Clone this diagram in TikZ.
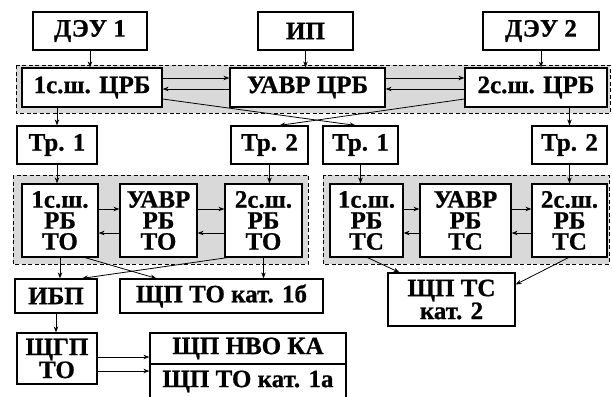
\documentclass[tikz,border=0pt]{standalone}
\usepackage{fontspec}
\setmainfont{Liberation Serif}[BoldFont={Liberation Serif Bold}, BoldFeatures={FakeBold=0.8}]
\usetikzlibrary{arrows.meta}
\newcommand{\bxnode}[6]{\node[box,minimum width={(#3-#2)*1pt},minimum height={(#5-#4)*1pt}] (#1) at ({(#2+#3)/2},{(#4+#5)/2}) {#6};}
\begin{document}
\begin{tikzpicture}[x=1pt,y=-1pt,
  box/.style={draw, line width=1.2pt, fill=white, inner sep=0pt, align=center, font=\bfseries\fontsize{25}{21}\selectfont},
  grp/.style={draw, dash pattern=on 4pt off 2.5pt, line width=0.9pt, fill=black!15},
  arr/.style={-{Stealth[length=6pt,width=4.5pt]}, line width=0.8pt},
]
\useasboundingbox (0,0) rectangle (612,396);
% groups
\draw[grp] (16,65) rectangle (610,113);
\draw[grp] (13,175) rectangle (308,264);
\draw[grp] (323,175) rectangle (609,264);
% boxes
\bxnode{dey1}{33}{147}{12}{50}{ДЭУ 1}
\bxnode{ip}{258}{353}{12}{50}{ИП}
\bxnode{dey2}{483}{599}{12}{50}{ДЭУ 2}
\bxnode{s1crb}{22}{162}{68}{107}{1с.ш. ЦРБ}
\bxnode{uavrcrb}{230}{385}{68}{107}{УАВР ЦРБ}
\bxnode{s2crb}{465}{607}{68}{107}{2с.ш. ЦРБ}
\bxnode{tr1a}{17}{97}{126}{164}{Тр. 1}
\bxnode{tr2a}{231}{308}{126}{164}{Тр. 2}
\bxnode{tr1b}{323}{398}{126}{164}{Тр. 1}
\bxnode{tr2b}{532}{607}{126}{164}{Тр. 2}
\bxnode{rb1to}{22}{98}{184}{257}{1с.ш.\\РБ\\ТО}
\bxnode{uavrto}{120}{197}{184}{257}{УАВР\\РБ\\ТО}
\bxnode{rb2to}{225}{302}{184}{257}{2с.ш.\\РБ\\ТО}
\bxnode{rb1tc}{330}{403}{184}{257}{1с.ш.\\РБ\\ТС}
\bxnode{uavrtc}{420}{511}{184}{257}{УАВР\\РБ\\ТС}
\bxnode{rb2tc}{532}{607}{184}{257}{2с.ш.\\РБ\\ТС}
\bxnode{ibp}{15}{97}{279}{313}{ИБП}
\bxnode{shp1b}{120}{323}{279}{313}{ЩП ТО кат. 1б}
\bxnode{shptc}{388}{515}{273}{326}{ЩП ТС\\кат. 2}
\bxnode{shgp}{17}{97}{333}{384}{ЩГП\\ТО}
\bxnode{shpnvo}{150}{346}{333}{364}{ЩП НВО КА}
\bxnode{shp1a}{150}{346}{364}{399}{ЩП ТО кат. 1а}
% top connectors
\draw[arr] (dey1.south) -- (dey1.south |- s1crb.north);
\draw[arr] (ip.south) -- (ip.south |- uavrcrb.north);
\draw[arr] (dey2.south) -- (dey2.south |- s2crb.north);
\draw[arr] ([yshift=9.5pt]s1crb.east) -- ([yshift=9.5pt]uavrcrb.west);
\draw[arr] ([yshift=-1.5pt]uavrcrb.west) -- ([yshift=-1.5pt]s1crb.east);
\draw[arr] ([yshift=9.5pt]uavrcrb.east) -- ([yshift=9.5pt]s2crb.west);
\draw[arr] ([yshift=-1.5pt]s2crb.west) -- ([yshift=-1.5pt]uavrcrb.east);
\draw[arr] ([yshift=-11.5pt]s1crb.east) -- ([xshift=-5pt]tr1b.north);
\draw[arr] ([yshift=-11.5pt]s2crb.west) -- ([xshift=10pt]tr2a.north);
\draw[arr] (s1crb.south -| tr1a.north) -- (tr1a.north);
\draw[arr] (s2crb.south -| tr2b.north) -- (tr2b.north);
% transformers
\draw[arr] (tr1a.south) -- (tr1a.south |- rb1to.north);
\draw[arr] (tr2a.south) -- (tr2a.south |- rb2to.north);
\draw[arr] (tr1b.south) -- (tr1b.south |- rb1tc.north);
\draw[arr] (tr2b.south) -- (tr2b.south |- rb2tc.north);
% inner group arrows
\foreach \a/\b in {rb1to/uavrto, uavrto/rb2to, rb1tc/uavrtc, uavrtc/rb2tc}{
  \draw[arr] ([yshift=11.5pt]\a.east) -- ([yshift=11.5pt]\b.west);
  \draw[arr] ([yshift=-12.5pt]\b.west) -- ([yshift=-12.5pt]\a.east);
}
% bottom
\draw[arr] (rb1to.south) -- (rb1to.south |- ibp.north);
\draw[arr] ([xshift=25pt]rb1to.south) -- ([xshift=37pt]shp1b.north west);
\draw[arr] ([xshift=3pt]rb2to.south west) -- ([xshift=26pt]ibp.north);
\draw[arr] (rb2to.south) -- (rb2to.south |- shp1b.north);
\draw[arr] ([xshift=1pt]rb1tc.south) -- ([xshift=12pt]shptc.north west);
\draw[arr] ([xshift=-1pt]rb2tc.south) -- ([yshift=15pt]shptc.east);
\draw[arr] (ibp.south) -- (ibp.south |- shgp.north);
\draw[arr] ([yshift=1.5pt]shgp.east) -- ([yshift=1.5pt]shgp.east -| shpnvo.west);
\draw[arr] ([yshift=-12.5pt]shgp.east) -- ([yshift=-12.5pt]shgp.east -| shp1a.west);
\end{tikzpicture}
\end{document}
